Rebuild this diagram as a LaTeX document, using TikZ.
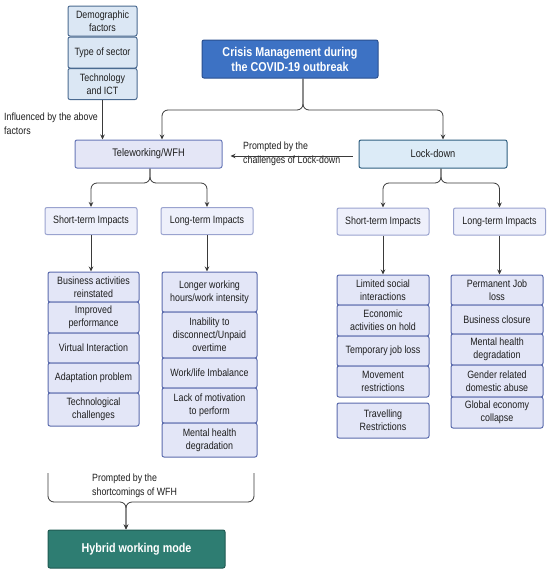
\documentclass[tikz,border=0pt]{standalone}
\usepackage{fontspec}
\setmainfont{Liberation Sans}[FakeStretch=0.84]
\usetikzlibrary{arrows.meta}
\definecolor{txt}{HTML}{1E1E1E}
\definecolor{linec}{HTML}{3A3A3A}
\definecolor{crisisfill}{HTML}{3D72C4}
\definecolor{crisisdraw}{HTML}{2A4F8F}
\definecolor{hybfill}{HTML}{2E7D72}
\definecolor{hybdraw}{HTML}{1F5A52}
\definecolor{itemfill}{HTML}{E3E6F7}
\definecolor{itemdraw}{HTML}{5B6BAD}
\definecolor{headfill}{HTML}{EEF0FB}
\definecolor{headdraw}{HTML}{9AA3CF}
\definecolor{factfill}{HTML}{DBE7F4}
\definecolor{factdraw}{HTML}{4A6A90}
\definecolor{lockfill}{HTML}{DCEBF7}
\definecolor{lockdraw}{HTML}{2F5F80}
\definecolor{telefill}{HTML}{E4E6F6}
\definecolor{teledraw}{HTML}{6878B8}
\tikzset{
  box/.style={draw, rounded corners=2pt, line width=1pt, align=center, inner sep=1pt,
    font=\fontsize{10.6}{13}\selectfont, text=txt},
  item/.style={box, fill=itemfill, draw=itemdraw, minimum width=#1},
  item/.default=91pt,
  head/.style={box, fill=headfill, draw=headdraw, minimum width=92pt, minimum height=27pt},
  fact/.style={box, fill=factfill, draw=factdraw, minimum width=69pt},
  arr/.style={-{Stealth[length=5pt,width=4.5pt]}, line width=0.8pt, draw=linec, rounded corners=6pt},
  lbl/.style={font=\fontsize{10.5}{13.5}\selectfont, text=txt, align=left, inner sep=0pt}
}
\begin{document}
\begin{tikzpicture}[x=1pt,y=-1pt]
\useasboundingbox[fill=white] (0,0) rectangle (550,573);
% factors
\node[fact, minimum height=30pt] (demo) at (102.5,21) {Demographic\\factors};
\node[fact, minimum height=31pt] (sector) at (102.5,52.5) {Type of sector};
\node[fact, minimum height=31pt] (tech) at (102.5,84) {Technology\\and ICT};
% crisis
\node[box, fill=crisisfill, draw=crisisdraw, minimum width=176pt, minimum height=38pt,
  text=white, font=\bfseries\fontsize{12.8}{15}\selectfont] (crisis) at (290,59)
  {Crisis Management during\\the COVID-19 outbreak};
% level 2
\node[box, fill=telefill, draw=teledraw, minimum width=147pt, minimum height=28pt,
  font=\fontsize{11}{13}\selectfont] (tele) at (148.5,154) {Teleworking/WFH};
\node[box, fill=lockfill, draw=lockdraw, minimum width=148pt, minimum height=28pt,
  font=\fontsize{11}{13}\selectfont] (lock) at (433,154) {Lock-down};
% heads
\node[head] (tshort) at (91,221) {Short-term Impacts};
\node[head] (tlong) at (207,221) {Long-term Impacts};
\node[head] (lshort) at (383,221.5) {Short-term Impacts};
\node[head] (llong) at (499.5,221.5) {Long-term Impacts};
% tele short items
\node[item, minimum height=30pt] (ts1) at (93.5,287) {Business activities\\reinstated};
\node[item, minimum height=31pt] (ts2) at (93.5,317.5) {Improved\\performance};
\node[item, minimum height=30pt] (ts3) at (93.5,348) {Virtual Interaction};
\node[item, minimum height=30pt] (ts4) at (93.5,378) {Adaptation problem};
\node[item, minimum height=33pt] (ts5) at (93.5,409.5) {Technological\\challenges};
% tele long items
\node[item=95pt, minimum height=40pt] (tl1) at (209.5,292) {Longer working\\hours/work intensity};
\node[item=95pt, minimum height=46pt] (tl2) at (209.5,335) {Inability to\\disconnect/Unpaid\\overtime};
\node[item=95pt, minimum height=30pt] (tl3) at (209.5,373) {Work/life Imbalance};
\node[item=95pt, minimum height=35pt] (tl4) at (209.5,405.5) {Lack of motivation\\to perform};
\node[item=95pt, minimum height=34pt] (tl5) at (209.5,440) {Mental health\\degradation};
% lock short items
\node[item=92pt, minimum height=30pt] (ls1) at (383,290) {Limited social\\interactions};
\node[item=92pt, minimum height=31pt] (ls2) at (383,320.5) {Economic\\activities on hold};
\node[item=92pt, minimum height=30pt] (ls3) at (383,351) {Temporary job loss};
\node[item=92pt, minimum height=31pt] (ls4) at (383,381.5) {Movement\\restrictions};
\node[item=92pt, minimum height=35pt] (ls5) at (383,420.5) {Travelling\\Restrictions};
% lock long items
\node[item=92pt, minimum height=30pt] (ll1) at (497,290) {Permanent Job\\loss};
\node[item=92pt, minimum height=29pt] (ll2) at (497,319.5) {Business closure};
\node[item=92pt, minimum height=31pt] (ll3) at (497,349.5) {Mental health\\degradation};
\node[item=92pt, minimum height=32pt] (ll4) at (497,381) {Gender related\\domestic abuse};
\node[item=92pt, minimum height=31pt] (ll5) at (497,412.5) {Global economy\\collapse};
% hybrid
\node[box, fill=hybfill, draw=hybdraw, minimum width=177pt, minimum height=38pt,
  text=white, font=\bfseries\fontsize{12.8}{15}\selectfont] (hyb) at (136.5,549) {Hybrid working mode};
% labels
\node[lbl, anchor=north west] (infl) at (4,113) {Influenced by the above\\factors};
\node[lbl, anchor=north west] (prompt1) at (243,142) {Prompted by the\\challenges of Lock-down};
\node[lbl, anchor=north west] (prompt2) at (92,474) {Prompted by the\\shortcomings of WFH};
% connectors
\coordinate (cb) at (303,110);
\draw[arr] (crisis.south -| cb) -- (cb) -| ([xshift=13.5pt]tele.north);
\draw[arr] (crisis.south -| cb) -- (cb) -| ([xshift=10pt]lock.north);
\draw[arr] (tech.south) -- (tele.north -| tech.south);
\coordinate (lockw) at ([xshift=-6pt,yshift=-2pt]lock.west);
\draw[arr] (lockw) -- ([xshift=8pt]tele.east |- lockw);
\coordinate (tb) at (150,183);
\draw[arr] (tele.south -| tb) -- (tb) -| (tshort.north);
\draw[arr] (tele.south -| tb) -- (tb) -| (tlong.north);
\coordinate (lb) at (441,183);
\draw[arr] (lock.south -| lb) -- (lb) -| (lshort.north);
\draw[arr] (lock.south -| lb) -- (lb) -| (llong.north);
\draw[arr] (tshort.south) -- (ts1.north -| tshort.south);
\draw[arr] (tlong.south) -- (tl1.north -| tlong.south);
\draw[arr] (lshort.south) -- (ls1.north -| lshort.south);
\draw[arr] (llong.south) -- (ll1.north -| llong.south);
\coordinate (bl) at (48,473);
\coordinate (br) at (254,473);
\coordinate (bt) at (126,502);
\draw[arr] (bl) |- (bt) -- (hyb.north -| bt);
\draw[arr] (br) |- (bt) -- (hyb.north -| bt);
\end{tikzpicture}
\end{document}
